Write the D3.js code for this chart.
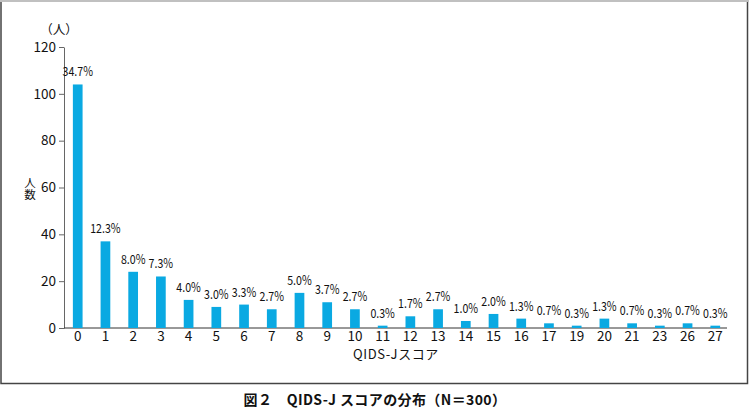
<!DOCTYPE html>
<html>
<head>
<meta charset="utf-8">
<script src="https://cdn.jsdelivr.net/npm/d3@7"></script>
<style>
  body { margin: 0; background: #fff; }
  svg text { font-family: "Noto Sans CJK JP", "Noto Sans", sans-serif; fill: #111; }
</style>
</head>
<body>
<div id="chart"></div>
<script>
// QIDS-J score distribution, N = 300
const scores = ['0', '1', '2', '3', '4', '5', '6', '7', '8', '9', '10', '11', '12', '13', '14', '15', '16', '17', '19', '20', '21', '23', '26', '27'];
const counts = [104, 37, 24, 22, 12, 9, 10, 8, 15, 11, 8, 1, 5, 8, 3, 6, 4, 2, 1, 4, 2, 1, 2, 1];
const percents = ['34.7%', '12.3%', '8.0%', '7.3%', '4.0%', '3.0%', '3.3%', '2.7%', '5.0%', '3.7%', '2.7%', '0.3%', '1.7%', '2.7%', '1.0%', '2.0%', '1.3%', '0.7%', '0.3%', '1.3%', '0.7%', '0.3%', '0.7%', '0.3%'];
const yTicks = [0, 20, 40, 60, 80, 100, 120];

const width = 749;
const height = 410;

const svg = d3.select('#chart').append('svg')
    .attr('width', width)
    .attr('height', height);

// outer frame
svg.append('rect')
    .attr('x', 1).attr('y', 0.5)
    .attr('width', 746.5).attr('height', 383)
    .attr('fill', 'none')
    .attr('stroke', '#444')
    .attr('stroke-width', 1.5);
svg.append('line')
    .attr('x1', 0).attr('x2', 749).attr('y1', 1).attr('y2', 1)
    .attr('stroke', '#c0c0c0').attr('stroke-width', 2);

const x = d3.scaleBand()
    .domain(scores)
    .range([64, 729])
    .paddingInner(0.65)
    .paddingOuter(0.32);

const y = d3.scaleLinear()
    .domain([0, 120])
    .range([328, 47]);

// y axis
const yAxis = svg.append('g')
    .attr('transform', 'translate(64,0)')
    .call(d3.axisLeft(y).tickValues(yTicks).tickSize(5).tickSizeOuter(0).tickPadding(3));
yAxis.select('.domain').attr('stroke', '#666');
yAxis.selectAll('.tick line').attr('stroke', '#666');
yAxis.selectAll('.tick text')
    .style('font-size', '13.5px')
    .attr('fill', '#111');

// x axis baseline
const xAxis = svg.append('g')
    .attr('transform', 'translate(0,328)')
    .call(d3.axisBottom(x).tickSize(0).tickPadding(3));
xAxis.select('.domain').attr('d', 'M64,0H727').attr('stroke', '#333');
xAxis.selectAll('.tick text')
    .style('font-size', '13.5px')
    .attr('fill', '#111');

// bars
svg.append('g')
    .selectAll('rect')
    .data(counts)
    .enter().append('rect')
    .attr('x', (d, i) => x(scores[i]))
    .attr('y', d => y(d))
    .attr('width', x.bandwidth())
    .attr('height', d => y(0) - y(d))
    .attr('fill', '#0aa9e2');

// percent labels (condensed)
svg.append('g')
    .selectAll('text')
    .data(counts)
    .enter().append('text')
    .attr('transform', (d, i) => `translate(${x(scores[i]) + x.bandwidth() / 2},${y(d) - 8}) scale(0.85,1)`)
    .attr('text-anchor', 'middle')
    .style('font-size', '12.5px')
    .text((d, i) => percents[i]);

// unit label
svg.append('text')
    .attr('x', 59).attr('y', 34)
    .attr('text-anchor', 'middle')
    .style('font-size', '12.5px')
    .text('（人）');

// vertical axis title (vertical writing)
svg.append('text')
    .attr('x', 30).attr('y', 189)
    .attr('text-anchor', 'middle')
    .style('writing-mode', 'vertical-rl')
    .style('text-orientation', 'upright')
    .style('font-size', '11.5px')
    .style('letter-spacing', '1px')
    .text('人数');

// x axis title
svg.append('text')
    .attr('x', 396).attr('y', 359)
    .attr('text-anchor', 'middle')
    .style('font-size', '13px')
    .style('letter-spacing', '0.6px')
    .text('QIDS-Jスコア');

// caption
svg.append('text')
    .attr('x', 375).attr('y', 405)
    .attr('text-anchor', 'middle')
    .style('font-size', '14px')
    .style('font-weight', 'bold')
    .style('letter-spacing', '0.4px')
    .text('図２　QIDS-J スコアの分布（N＝300）');
</script>
</body>
</html>
